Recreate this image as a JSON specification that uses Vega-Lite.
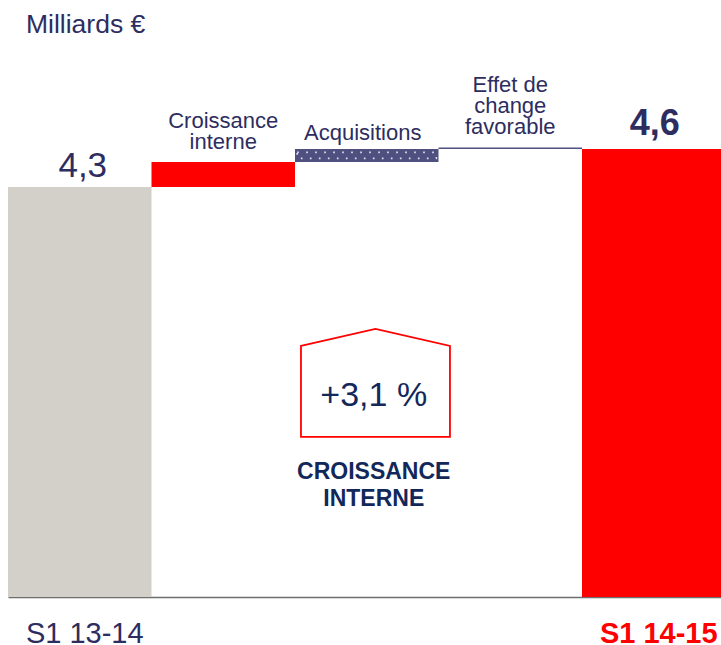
{
  "$schema": "https://vega.github.io/schema/vega-lite/v6.json",
  "width": 713,
  "height": 597,
  "autosize": {"type": "none"},
  "padding": {"left": 8, "top": 0, "right": 0, "bottom": 48},
  "background": "white",
  "config": {"view": {"stroke": null}, "font": "Liberation Sans", "text": {"lineBreak": "\n"}},
  "data": {
    "values": [
      {"cat": "S1 13-14", "start": 0, "end": 4.3, "kind": "total13", "label": "4,3"},
      {"cat": "Croissance interne", "start": 4.3, "end": 4.497, "kind": "interne", "label": "Croissance\ninterne"},
      {"cat": "Acquisitions", "start": 4.497, "end": 4.6, "kind": "acq", "label": "Acquisitions"},
      {"cat": "Effet de change favorable", "start": 4.6, "end": 4.612, "kind": "fx", "label": "Effet de\nchange\nfavorable"},
      {"cat": "S1 14-15", "start": 0, "end": 4.6, "kind": "total14", "label": "4,6"}
    ]
  },
  "encoding": {
    "x": {
      "field": "cat", "type": "nominal", "sort": null,
      "scale": {"paddingInner": 0, "paddingOuter": 0, "range": [0, 717.5]},
      "axis": {
        "title": null, "ticks": false, "domainColor": "#6e6e6e", "domainWidth": 1.5,
        "labelExpr": "datum.value == 'S1 13-14' || datum.value == 'S1 14-15' ? datum.value : ''",
        "labelFontSize": 29, "labelPadding": 45, "labelBaseline": "alphabetic", "labelAngle": 0, "labelOffset": 5,
        "labelFlush": false, "labelOverlap": false, "labelBound": false,
        "labelColor": {"condition": {"test": "datum.value == 'S1 14-15'", "value": "#ff0000"}, "value": "#2d2d5f"},
        "labelFontWeight": {"condition": {"test": "datum.value == 'S1 14-15'", "value": "bold"}, "value": "normal"}
      }
    }
  },
  "layer": [
    {
      "mark": {"type": "bar", "strokeWidth": 0},
      "encoding": {
        "y": {"field": "end", "type": "quantitative", "scale": {"domain": [1.0632, 5.7763], "zero": false, "nice": false, "clamp": true}, "axis": null},
        "y2": {"field": "start"},
        "color": {"field": "kind", "type": "nominal", "scale": {"domain": ["total13", "interne", "acq", "fx", "total14"], "range": ["#d3d0c9", "#ff0000", "#4f4f80", "#4f4f80", "#ff0000"]}, "legend": null}
      }
    },
    {
      "transform": [{"filter": "datum.kind == 'acq'"}],
      "mark": {"type": "bar", "fill": null, "fillOpacity": 0, "stroke": "#dcdcea", "strokeWidth": 1.7, "strokeDash": [1.7, 7.3], "width": {"band": 0.97}},
      "encoding": {
        "y": {"datum": 4.574, "type": "quantitative"},
        "y2": {"datum": 4.5265}
      }
    },
    {
      "transform": [{"filter": "datum.kind == 'total13'"}],
      "mark": {"type": "text", "fontSize": 35, "color": "#2d2d5f", "baseline": "alphabetic", "dy": -10, "dx": 3},
      "encoding": {"y": {"field": "end", "type": "quantitative"}, "text": {"field": "label"}}
    },
    {
      "transform": [{"filter": "datum.kind == 'total14'"}],
      "mark": {"type": "text", "fontSize": 36, "fontWeight": "bold", "color": "#2d2d5f", "baseline": "alphabetic", "dy": -14, "dx": 1},
      "encoding": {"y": {"field": "end", "type": "quantitative"}, "text": {"field": "label"}}
    },
    {
      "transform": [{"filter": "datum.kind == 'interne'"}],
      "mark": {"type": "text", "fontSize": 22, "lineHeight": 21, "color": "#2d2d5f", "baseline": "alphabetic", "dy": -34},
      "encoding": {"y": {"field": "end", "type": "quantitative"}, "text": {"field": "label"}}
    },
    {
      "transform": [{"filter": "datum.kind == 'acq'"}],
      "mark": {"type": "text", "fontSize": 22, "lineHeight": 21, "color": "#2d2d5f", "baseline": "alphabetic", "dy": -9, "dx": -4},
      "encoding": {"y": {"field": "end", "type": "quantitative"}, "text": {"field": "label"}}
    },
    {
      "transform": [{"filter": "datum.kind == 'fx'"}],
      "mark": {"type": "text", "fontSize": 22, "lineHeight": 20.7, "color": "#2d2d5f", "baseline": "alphabetic", "dy": -55},
      "encoding": {"y": {"field": "end", "type": "quantitative"}, "text": {"field": "label"}}
    },
    {
      "data": {"values": [{"growth": "+3,1 %", "caption": "CROISSANCE\nINTERNE", "unit": "Milliards €"}]},
      "layer": [
        {
          "mark": {"type": "point", "shape": "M-0.883,-0.497L0.117,-0.725L1.117,-0.497L1.117,0.725L-0.883,0.725Z", "size": 22201, "filled": false, "stroke": "#ff0000", "strokeWidth": 1.8, "opacity": 1},
          "encoding": {"x": {"datum": "Acquisitions"}, "y": {"datum": 2.753, "type": "quantitative"}}
        },
        {
          "mark": {"type": "text", "fontSize": 34, "color": "#13285a", "baseline": "alphabetic", "dx": 7},
          "encoding": {"x": {"datum": "Acquisitions"}, "y": {"datum": 2.571, "type": "quantitative"}, "text": {"field": "growth"}}
        },
        {
          "mark": {"type": "text", "fontSize": 23, "fontWeight": "bold", "lineHeight": 27, "color": "#13285a", "baseline": "alphabetic", "dx": 7},
          "encoding": {"x": {"datum": "Acquisitions"}, "y": {"datum": 1.995, "type": "quantitative"}, "text": {"field": "caption"}}
        },
        {
          "mark": {"type": "text", "fontSize": 26.5, "color": "#2d2d5f", "baseline": "alphabetic", "align": "left", "dx": -53.75},
          "encoding": {"x": {"datum": "S1 13-14"}, "y": {"datum": 5.516, "type": "quantitative"}, "text": {"field": "unit"}}
        }
      ]
    }
  ]
}
